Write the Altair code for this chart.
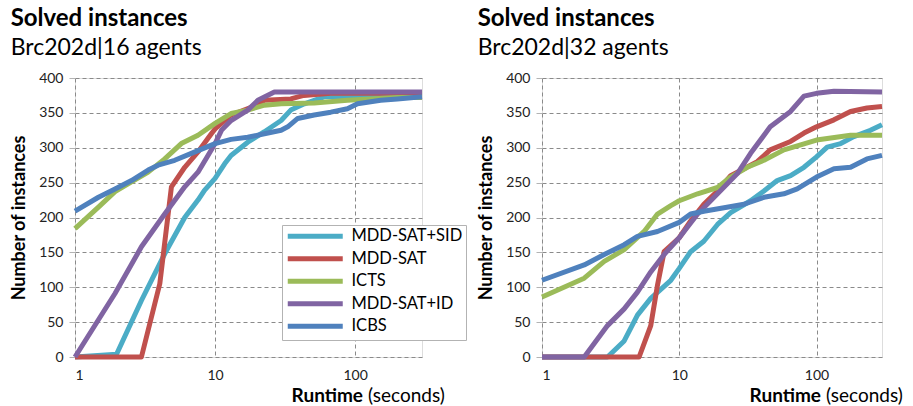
import altair as alt
import pandas as pd

SERIES = ["MDD-SAT+SID", "MDD-SAT", "ICTS", "MDD-SAT+ID", "ICBS"]
COLORS = ["#4BACC6", "#C0504D", "#9BBB59", "#8064A2", "#4F81BD"]
X_TICKS = [1, 10, 100]
Y_TICKS = [0, 50, 100, 150, 200, 250, 300, 350, 400]

# ---- Brc202d | 16 agents ----
a16_sid_t = [1, 1.98, 2.98, 4.37, 6.07, 7.55, 8.4, 10, 11.7, 13, 17.1, 22.5, 29.6, 34.7, 43.4, 60, 300]
a16_sid_n = [0, 4, 81, 148, 200, 225, 239, 256, 277, 289, 308, 323, 339, 354, 363, 373, 374]
a16_sat_t = [1, 2.98, 4.03, 4.88, 6.07, 7.55, 9.4, 10, 13, 18.1, 22.5, 34.7, 43, 67, 300]
a16_sat_n = [0, 0, 105, 244, 272, 294, 320, 327, 347, 358, 368, 370, 375, 378, 378]
a16_icts_t = [1, 1.47, 1.93, 2.53, 3.33, 4.37, 5.74, 7.55, 10, 13, 17.1, 22.5, 29.6, 51, 88, 200, 300]
a16_icts_n = [184, 215, 237, 251, 265, 284, 306, 318, 335, 349, 354, 361, 363, 364, 368, 372, 372]
a16_id_t = [1, 1.93, 2.98, 4.37, 6.07, 7.55, 8.9, 10, 11.1, 13, 17.1, 20.2, 26.5, 300]
a16_id_n = [0, 91, 158, 205, 244, 265, 289, 306, 325, 339, 354, 368, 380, 380]
a16_icbs_t = [1, 1.47, 1.93, 2.53, 3.33, 3.92, 5.15, 6.77, 10, 13, 17.1, 22.5, 29.6, 33, 38.9, 51, 67, 88, 104, 152, 200, 300]
a16_icbs_n = [209, 229, 241, 253, 268, 275, 282, 292, 306, 312, 315, 320, 325, 330, 342, 347, 351, 356, 363, 368, 370, 373]

# ---- Brc202d | 32 agents ----
a32_sid_t = [1, 3.0, 3.97, 4.96, 6.2, 8.68, 10, 12.1, 15.1, 19, 23.7, 33.1, 41.4, 51.7, 64.7, 81, 100, 119.6, 150, 187, 247, 300]
a32_sid_n = [0, 0, 23, 60, 84, 110, 127, 151, 166, 190, 207, 224, 238, 253, 260, 272, 287, 301, 306, 316, 325, 333]
a32_sat_t = [1, 5.1, 6.2, 6.94, 7.76, 10, 12.1, 15.1, 19, 23.7, 29.6, 37, 46, 64.7, 81, 100, 134, 177, 233, 300]
a32_sat_n = [0, 0, 45, 103, 151, 171, 195, 219, 238, 260, 270, 280, 297, 309, 321, 330, 340, 352, 357, 359]
a32_icts_t = [1, 2.03, 2.84, 3.97, 5.55, 6.94, 8.68, 10, 13.6, 19, 23.7, 31.3, 41.4, 57.9, 100, 177, 300]
a32_icts_n = [86, 113, 137, 154, 180, 205, 217, 224, 234, 243, 258, 272, 282, 297, 311, 318, 318]
a32_id_t = [1, 2.03, 3.0, 3.97, 4.96, 6.2, 7.76, 10, 13.6, 19, 26.5, 33.1, 46, 64.7, 81, 100, 134, 300]
a32_id_n = [0, 0, 45, 69, 93, 122, 147, 171, 205, 234, 263, 292, 330, 352, 374, 378, 381, 380]
a32_icbs_t = [1, 2.03, 2.84, 3.97, 4.96, 6.94, 10, 12.1, 15.1, 21.2, 29.6, 41.4, 57.9, 72.3, 100, 134, 177, 233, 300]
a32_icbs_n = [110, 132, 147, 161, 173, 180, 193, 205, 209, 214, 219, 229, 234, 241, 258, 270, 272, 284, 289]


def frame(pairs):
    rows = []
    for i, (ts, ns) in enumerate(pairs):
        for k, (t, n) in enumerate(zip(ts, ns)):
            rows.append({"series": SERIES[i], "t": t, "n": n, "o": k, "z": i})
    return pd.DataFrame(rows)


df16 = frame([(a16_sid_t, a16_sid_n), (a16_sat_t, a16_sat_n), (a16_icts_t, a16_icts_n),
              (a16_id_t, a16_id_n), (a16_icbs_t, a16_icbs_n)])
df32 = frame([(a32_sid_t, a32_sid_n), (a32_sat_t, a32_sat_n), (a32_icts_t, a32_icts_n),
              (a32_id_t, a32_id_n), (a32_icbs_t, a32_icbs_n)])

FONT = "Lato"
GRID = "#8a8a8a"
BORDER = "#b3b3b3"


def panel(df, subtitle, w, h, legend, rt_right):
    xax = alt.Axis(values=X_TICKS, title=None, grid=True, gridDash=[4, 3], gridColor=GRID,
                   gridWidth=1, domain=False, ticks=False, labelFontSize=14, labelFont=FONT,
                   labelColor="#222222", labelPadding=11, format="d")
    yax = alt.Axis(values=Y_TICKS, title="Number of instances", grid=True, gridDash=[4, 3],
                   gridColor=GRID, gridWidth=1, domain=False, tickSize=6, tickColor=BORDER,
                   labelFontSize=14, labelFont=FONT, labelColor="#222222", labelPadding=6,
                   titleFont=FONT, titleFontSize=18, titleFontWeight="bold", titleColor="black",
                   titlePadding=10)
    color = alt.Color("series:N", scale=alt.Scale(domain=SERIES, range=COLORS), legend=legend)
    lines = alt.Chart(df).mark_line(strokeWidth=5, strokeJoin="round").encode(
        x=alt.X("t:Q", scale=alt.Scale(type="log", domain=[1, 300], nice=False), axis=xax),
        y=alt.Y("n:Q", scale=alt.Scale(domain=[0, 400], nice=False), axis=yax),
        color=color,
        detail="z:O",
        order="o:Q",
    )
    one = pd.DataFrame({"k": [0]})
    rt1 = alt.Chart(one).mark_text(text="Runtime", font=FONT, fontSize=19, fontWeight="bold",
                                   align="right", baseline="alphabetic", color="black").encode(
        x=alt.value(rt_right), y=alt.value(h + 45))
    rt2 = alt.Chart(one).mark_text(text="(seconds)", font=FONT, fontSize=19,
                                   align="left", baseline="alphabetic", color="black").encode(
        x=alt.value(rt_right + 5), y=alt.value(h + 45))
    return alt.layer(lines, rt1, rt2).properties(
        width=w, height=h,
        title=alt.TitleParams("Solved instances", subtitle=subtitle, anchor="start", frame="bounds",
                              font=FONT, fontSize=24, fontWeight="bold", color="black",
                              subtitleFont=FONT, subtitleFontSize=23, subtitleColor="black",
                              subtitlePadding=6, offset=11),
    )


leg = alt.Legend(orient="none", legendX=207, legendY=147, title=None,
                 symbolType="M-1,0H9", symbolSize=121, symbolStrokeWidth=5,
                 labelFont=FONT, labelFontSize=16.5, labelColor="black", labelOffset=50,
                 labelLimit=200, rowPadding=1.5, padding=3, fillColor="white",
                 strokeColor=BORDER, symbolOpacity=1)

left = panel(df16, "Brc202d|16 agents", 347, 279, leg, 288)
right = panel(df32, "Brc202d|32 agents", 340, 279, None, 279)

chart = alt.hconcat(left, right, spacing=120, bounds="flush").resolve_legend(
    color="independent").properties(
    padding={"left": 10, "top": 6, "right": 2, "bottom": 2}
).configure_view(stroke=BORDER, strokeWidth=2).configure(background="white")

chart.save("out.html", embed_options={"renderer": "svg", "actions": False})
